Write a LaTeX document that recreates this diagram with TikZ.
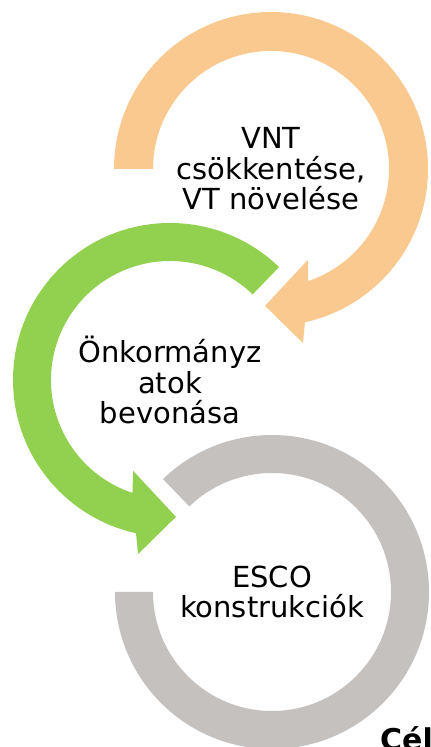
\documentclass[tikz,border=0pt]{standalone}
\usepackage{fontspec}
\setmainfont{DejaVu Sans}
\usepackage{xcolor}
\usepackage{tikz}

\definecolor{vntorange}{HTML}{F9C98F}
\definecolor{onkgreen}{HTML}{92D050}
\definecolor{escogray}{HTML}{C4C1BE}

\begin{document}
\begin{tikzpicture}
  [x=1pt,y=1pt,every node/.style={inner sep=0pt,align=center,font=\fontsize{29}{30.5}\selectfont}] % all the labels share one size, nodes sit at the ring centres

    \useasboundingbox (0,0) rectangle (431,747);
    \clip (0,0) rectangle (431,747);

    \coordinate (vntC) at (271,578);
    \coordinate (onkC) at (170,367);
    \coordinate (escoC) at (272,155);

    % orange ring, clockwise, head points down-left
    \begin{scope}[shift={(vntC)}]
    \fill[vntorange] (180:157) arc[start angle=180, end angle=-77.5, radius=157]
        -- (-79.6:177) -- (-92.5:137) -- (-67.9:98) -- (-71.6:118)
        arc[start angle=-71.6, end angle=180, radius=118] -- cycle;
    \end{scope}

    % green ring, counter clockwise
    \begin{scope}[shift={(onkC)}]
    \fill[onkgreen] (46:157) arc[start angle=46, end angle=257.5, radius=157]
        -- (259.6:177) -- (272.5:137) -- (247.9:98) -- (251.6:119)
        arc[start angle=251.6, end angle=46, radius=119] -- cycle;
    \end{scope}

    % gray ring, no head
    \begin{scope}[shift={(escoC)}]
    \fill[escogray] (134:157) arc[start angle=134, end angle=-180, radius=157]
        -- (-180:119) arc[start angle=-180, end angle=134, radius=119] -- cycle;
    \end{scope}

    \node (vnt) at (vntC)   {VNT\\csökkentése,\\VT növelése};
    \node (onk) at (onkC)   {Önkormányz\\atok\\bevonása};
    \node (esco) at (escoC) {ESCO\\konstrukciók};

    % runs off the page at the bottom right, as in the original
    \node[anchor=base west,font=\fontsize{30}{31}\selectfont\bfseries] (cel) at (380,-4) {Cél};

\end{tikzpicture}
\end{document}
